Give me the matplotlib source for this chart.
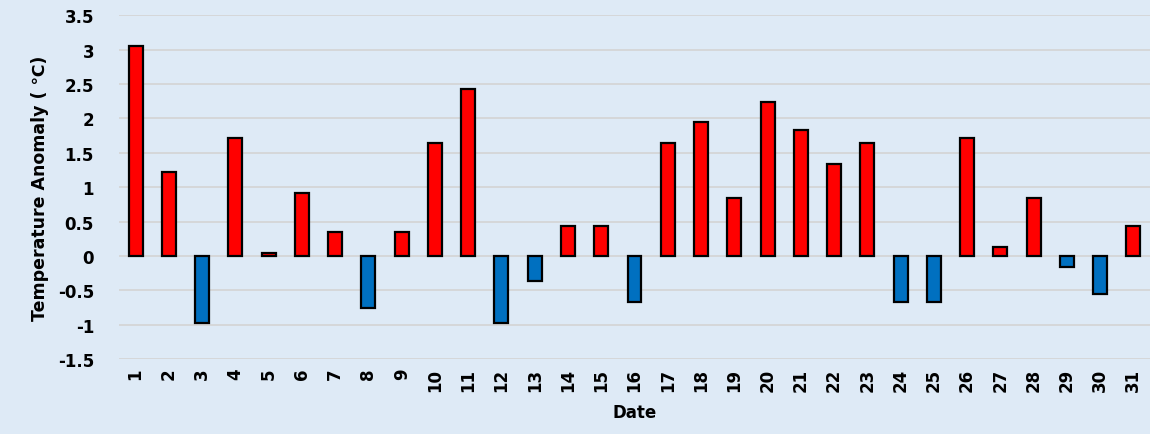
import matplotlib
matplotlib.use("Agg")
import matplotlib.pyplot as plt
import numpy as np

# Daily temperature anomaly for one month
dates = list(range(1, 32))
anomaly = [3.05, 1.22, -0.98, 1.72, 0.05, 0.92, 0.35, -0.76, 0.35, 1.64,
           2.43, -0.98, -0.36, 0.43, 0.43, -0.67, 1.64, 1.94, 0.84, 2.24,
           1.83, 1.34, 1.64, -0.67, -0.67, 1.72, 0.13, 0.84, -0.16, -0.56,
           0.43]
y_ticks = [-1.5, -1, -0.5, 0, 0.5, 1, 1.5, 2, 2.5, 3, 3.5]

bg = "#DEEAF6"
fig = plt.figure(figsize=(11.5, 4.35), dpi=100, facecolor=bg)
ax = fig.add_axes([0.1035, 0.172, 0.8965, 0.791], facecolor=bg)

colors = ["#FF0000" if v >= 0 else "#0070C0" for v in anomaly]
ax.bar(dates, anomaly, width=0.42, color=colors, edgecolor="black",
       linewidth=1.6, zorder=3)

ax.set_xlim(0.5, 31.5)
ax.set_ylim(-1.5, 3.5)
ax.set_yticks(y_ticks)
ax.set_yticklabels([f"{t:g}" for t in y_ticks], fontsize=12, fontweight="bold")
ax.set_xticks(dates)
ax.set_xticklabels([str(d) for d in dates], rotation=90, fontsize=12,
                   fontweight="bold")
ax.tick_params(axis="y", length=0, pad=18)
ax.tick_params(axis="x", length=0, pad=6)
ax.grid(axis="y", color="#D4D4D4", linewidth=1.2, zorder=0)
for s in ax.spines.values():
    s.set_visible(False)

ax.set_xlabel("Date", fontsize=12, fontweight="bold", labelpad=9)
ax.set_ylabel("Temperature Anomaly ( \u2103)", fontsize=12.5, fontweight="bold",
              family=["DejaVu Sans", "Noto Sans CJK SC"], labelpad=6)

fig.savefig("out.png", dpi=100, facecolor=bg)
